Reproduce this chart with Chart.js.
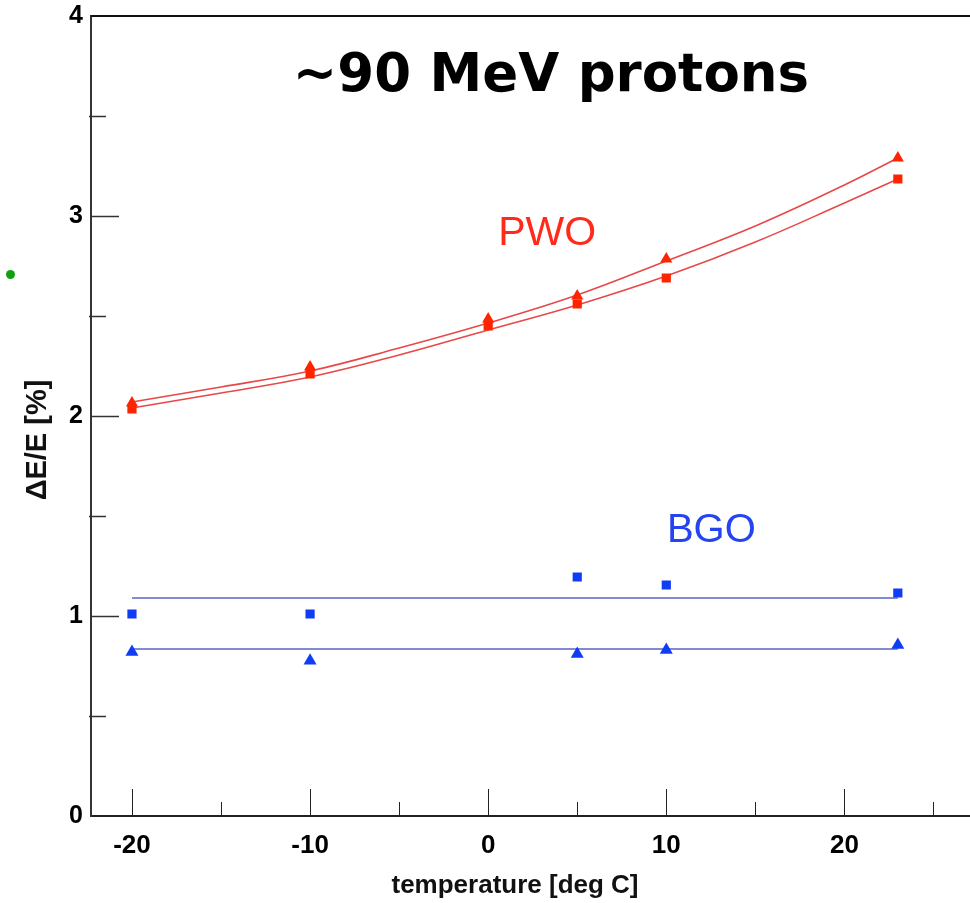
<!DOCTYPE html>
<html>
<head>
<meta charset="utf-8">
<script src="https://cdn.jsdelivr.net/npm/chart.js@4.4.1/dist/chart.umd.min.js"></script>
<style>
  html, body { margin: 0; padding: 0; background: #ffffff; overflow: hidden; }
  #wrap { position: relative; width: 970px; height: 903px; overflow: hidden; }
  #c { position: absolute; left: 0; top: 0; }
  #dot { position: absolute; left: 6px; top: 270px; width: 9px; height: 9px; border-radius: 50%; background: #10a010; }
</style>
</head>
<body>
<div id="wrap">
  <canvas id="c" width="978" height="903"></canvas>
  <div id="dot"></div>
</div>
<script>
// ---- data ----
const pwoTemps = [-20, -10, 0, 5, 10, 23];
const pwoTriangle = [2.065, 2.245, 2.485, 2.60, 2.785, 3.29];
const pwoSquare = [2.035, 2.21, 2.45, 2.56, 2.69, 3.185];

const fitTemps = [-20, -15, -10, -5, 0, 5, 10, 15, 20, 23];
const pwoFitUpper = [2.07, 2.145, 2.225, 2.34, 2.465, 2.605, 2.775, 2.95, 3.155, 3.29];
const pwoFitLower = [2.04, 2.115, 2.195, 2.305, 2.43, 2.555, 2.70, 2.87, 3.065, 3.185];

const bgoTemps = [-20, -10, 5, 10, 23];
const bgoSquare = [1.01, 1.01, 1.195, 1.155, 1.115];
const bgoTriangle = [0.82, 0.776, 0.81, 0.83, 0.855];

const bgoLineTemps = [-20, 23];
const bgoLineUpper = [1.09, 1.09];
const bgoLineLower = [0.835, 0.835];

const xTickValues = [-20, -10, 0, 10, 20];
const xMinorTicks = [-15, -5, 5, 15, 25];
const yTickValues = [0, 1, 2, 3, 4];
const yMinorTicks = [0.5, 1.5, 2.5, 3.5];

const titleText = '~90 MeV protons';
const xTitle = 'temperature [deg C]';
const yTitle = '\u0394E/E [%]';
const labels = [
  { text: 'PWO', x: 3.31, y: 2.91, color: '#ff2a1a', size: 41 },
  { text: 'BGO', x: 12.53, y: 1.425, color: '#2344f0', size: 40 }
];

const RED = '#ff2400';
const RED_LINE = '#e84848';
const BLUE = '#0f3cf5';
const BLUE_LINE = '#5a62c4';

const pts = (xs, ys) => xs.map((x, i) => ({ x: x, y: ys[i] }));

const decor = {
  id: 'decor',
  afterDraw(chart) {
    const ctx = chart.ctx;
    const xs = chart.scales.x, ys = chart.scales.y;
    const a = chart.chartArea;
    ctx.save();
    // top frame line
    ctx.strokeStyle = '#111';
    ctx.lineWidth = 2;
    ctx.beginPath();
    ctx.moveTo(a.left, a.top);
    ctx.lineTo(978, a.top);
    ctx.stroke();
    // x ticks (inside, upward)
    ctx.strokeStyle = '#222';
    ctx.lineWidth = 1;
    xTickValues.forEach(v => {
      const px = Math.round(xs.getPixelForValue(v)) + 0.5;
      ctx.beginPath(); ctx.moveTo(px, a.bottom); ctx.lineTo(px, a.bottom - 27); ctx.stroke();
    });
    xMinorTicks.forEach(v => {
      const px = Math.round(xs.getPixelForValue(v)) + 0.5;
      ctx.beginPath(); ctx.moveTo(px, a.bottom); ctx.lineTo(px, a.bottom - 14); ctx.stroke();
    });
    // y ticks (inside, rightward)
    ctx.strokeStyle = '#333';
    ctx.lineWidth = 1.5;
    yTickValues.forEach(v => {
      if (v === 0 || v === 4) return;
      const py = Math.round(ys.getPixelForValue(v)) + 0.5;
      ctx.beginPath(); ctx.moveTo(a.left, py); ctx.lineTo(a.left + 28, py); ctx.stroke();
    });
    yMinorTicks.forEach(v => {
      const py = Math.round(ys.getPixelForValue(v)) + 0.5;
      ctx.beginPath(); ctx.moveTo(a.left - 2, py); ctx.lineTo(a.left + 15, py); ctx.stroke();
    });
    // main title
    ctx.fillStyle = '#000';
    ctx.textAlign = 'center';
    ctx.textBaseline = 'middle';
    ctx.font = 'bold 53px "DejaVu Sans"';
    ctx.fillText(titleText, 551, 77);
    // series labels
    labels.forEach(l => {
      ctx.fillStyle = l.color;
      ctx.font = l.size + 'px "Liberation Sans", Arial, sans-serif';
      ctx.fillText(l.text, xs.getPixelForValue(l.x), ys.getPixelForValue(l.y));
    });
    // axis titles
    ctx.fillStyle = '#111';
    ctx.font = 'bold 26px "Liberation Sans", Arial, sans-serif';
    ctx.fillText(xTitle, 515, 886);
    ctx.translate(38, 440);
    ctx.rotate(-Math.PI / 2);
    ctx.font = 'bold 29px "Liberation Sans", Arial, sans-serif';
    ctx.fillText(yTitle, 0, 0);
    ctx.restore();
  }
};

new Chart(document.getElementById('c'), {
  type: 'scatter',
  data: {
    datasets: [
      { data: pts(pwoTemps, pwoTriangle), pointStyle: 'triangle', pointRadius: 7, backgroundColor: RED, borderColor: RED, borderWidth: 0, showLine: false },
      { data: pts(pwoTemps, pwoSquare), pointStyle: 'rect', pointRadius: 6.5, backgroundColor: RED, borderColor: RED, borderWidth: 0, showLine: false },
      { data: pts(bgoTemps, bgoSquare), pointStyle: 'rect', pointRadius: 6.5, backgroundColor: BLUE, borderColor: BLUE, borderWidth: 0, showLine: false },
      { data: pts(bgoTemps, bgoTriangle), pointStyle: 'triangle', pointRadius: 7.5, backgroundColor: BLUE, borderColor: BLUE, borderWidth: 0, showLine: false },
      { data: pts(fitTemps, pwoFitUpper), showLine: true, pointRadius: 0, borderColor: RED_LINE, borderWidth: 1.6, tension: 0.4, fill: false },
      { data: pts(fitTemps, pwoFitLower), showLine: true, pointRadius: 0, borderColor: RED_LINE, borderWidth: 1.6, tension: 0.4, fill: false },
      { data: pts(bgoLineTemps, bgoLineUpper), showLine: true, pointRadius: 0, borderColor: BLUE_LINE, borderWidth: 1.6, fill: false },
      { data: pts(bgoLineTemps, bgoLineLower), showLine: true, pointRadius: 0, borderColor: BLUE_LINE, borderWidth: 1.6, fill: false }
    ]
  },
  options: {
    responsive: false,
    animation: false,
    devicePixelRatio: 1,
    layout: { padding: { top: 16, right: 0, left: 0, bottom: 0 } },
    plugins: { legend: { display: false }, tooltip: { enabled: false }, title: { display: false } },
    scales: {
      x: {
        type: 'linear',
        min: -22.3,
        max: 27.08,
        grid: { display: false, drawTicks: false },
        border: { display: true, color: '#222', width: 2 },
        afterFit: s => { s.height = 87; s.paddingLeft = 0; s.paddingRight = 0; },
        afterBuildTicks: s => { s.ticks = xTickValues.map(v => ({ value: v })); },
        ticks: {
          padding: 14,
          color: '#000',
          font: { family: '"Liberation Sans", Arial, sans-serif', size: 26, weight: 'bold' },
          maxRotation: 0
        }
      },
      y: {
        type: 'linear',
        min: 0,
        max: 4,
        grid: { display: false, drawTicks: false },
        border: { display: true, color: '#333', width: 2 },
        afterFit: s => { s.width = 91; s.paddingTop = 0; s.paddingBottom = 0; },
        afterBuildTicks: s => { s.ticks = yTickValues.map(v => ({ value: v })); },
        ticks: {
          padding: 8,
          color: '#000',
          font: { family: '"Liberation Sans", Arial, sans-serif', size: 25, weight: 'bold' }
        }
      }
    }
  },
  plugins: [decor]
});
</script>
</body>
</html>
